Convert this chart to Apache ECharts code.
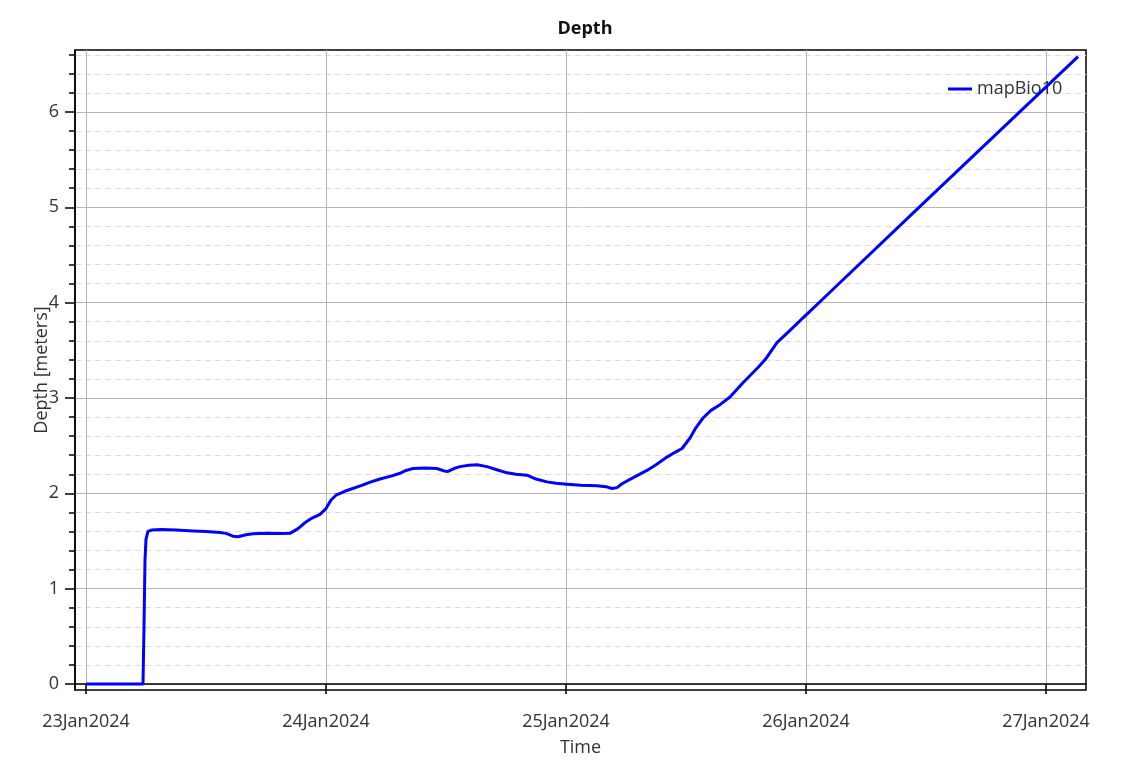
<!DOCTYPE html>
<html>
<head>
<meta charset="utf-8">
<script src="https://cdn.jsdelivr.net/npm/echarts@6/dist/echarts.min.js"></script>
<style>
html,body{margin:0;padding:0;background:#fff;}
#frame{position:absolute;left:7px;top:8px;width:1px;height:761px;background:#efefef;}
#chart{position:absolute;left:0;top:0;width:1129px;height:769px;}
</style>
</head>
<body>
<div id="frame"></div>
<div id="chart"></div>
<script>
// ---- data ----
const times = [
  '2024-01-23T00:00:00Z','2024-01-23T05:42:00Z','2024-01-23T05:48:00Z','2024-01-23T05:54:00Z',
  '2024-01-23T06:00:00Z','2024-01-23T06:12:00Z','2024-01-23T06:36:00Z','2024-01-23T07:30:00Z',
  '2024-01-23T09:00:00Z','2024-01-23T10:42:00Z','2024-01-23T12:00:00Z','2024-01-23T13:24:00Z',
  '2024-01-23T14:00:00Z','2024-01-23T14:42:00Z','2024-01-23T15:12:00Z','2024-01-23T16:00:00Z',
  '2024-01-23T16:42:00Z','2024-01-23T18:00:00Z','2024-01-23T19:30:00Z','2024-01-23T20:24:00Z',
  '2024-01-23T21:12:00Z','2024-01-23T22:00:00Z','2024-01-23T22:36:00Z','2024-01-23T23:24:00Z',
  '2024-01-24T00:00:00Z','2024-01-24T00:30:00Z','2024-01-24T01:00:00Z','2024-01-24T02:06:00Z',
  '2024-01-24T03:30:00Z','2024-01-24T04:30:00Z','2024-01-24T05:24:00Z','2024-01-24T06:30:00Z',
  '2024-01-24T07:24:00Z','2024-01-24T08:00:00Z','2024-01-24T08:42:00Z','2024-01-24T10:00:00Z',
  '2024-01-24T11:06:00Z','2024-01-24T11:48:00Z','2024-01-24T12:12:00Z','2024-01-24T12:48:00Z',
  '2024-01-24T13:24:00Z','2024-01-24T14:18:00Z','2024-01-24T15:06:00Z','2024-01-24T16:06:00Z',
  '2024-01-24T17:00:00Z','2024-01-24T18:06:00Z','2024-01-24T19:00:00Z','2024-01-24T20:06:00Z',
  '2024-01-24T21:00:00Z','2024-01-24T22:06:00Z','2024-01-24T23:00:00Z','2024-01-25T00:06:00Z',
  '2024-01-25T01:30:00Z','2024-01-25T03:06:00Z','2024-01-25T04:00:00Z','2024-01-25T04:36:00Z',
  '2024-01-25T05:06:00Z','2024-01-25T05:36:00Z','2024-01-25T07:00:00Z','2024-01-25T08:06:00Z',
  '2024-01-25T09:00:00Z','2024-01-25T10:06:00Z','2024-01-25T10:54:00Z','2024-01-25T11:36:00Z',
  '2024-01-25T12:24:00Z','2024-01-25T13:00:00Z','2024-01-25T13:42:00Z','2024-01-25T14:30:00Z',
  '2024-01-25T15:24:00Z','2024-01-25T16:24:00Z','2024-01-25T17:42:00Z','2024-01-25T19:12:00Z',
  '2024-01-25T19:54:00Z','2024-01-25T21:06:00Z','2024-01-25T22:24:00Z','2024-01-25T23:42:00Z',
  '2024-01-26T00:06:00Z','2024-01-26T02:36:00Z','2024-01-26T11:18:00Z','2024-01-27T03:12:00Z'
];
const depth = [
  0, 0, 0.6, 1.3,
  1.52, 1.6, 1.615, 1.62,
  1.615, 1.605, 1.6, 1.59,
  1.58, 1.55, 1.545, 1.565,
  1.575, 1.58, 1.578, 1.58,
  1.63, 1.7, 1.74, 1.78,
  1.84, 1.93, 1.98, 2.03,
  2.08, 2.12, 2.15, 2.18,
  2.21, 2.24, 2.26, 2.265,
  2.26, 2.235, 2.23, 2.26,
  2.28, 2.295, 2.3, 2.28,
  2.25, 2.215, 2.2, 2.19,
  2.15, 2.12, 2.105, 2.095,
  2.085, 2.08, 2.07, 2.05,
  2.06, 2.1, 2.18, 2.24,
  2.3, 2.38, 2.43, 2.47,
  2.58, 2.69, 2.79, 2.87,
  2.93, 3.01, 3.16, 3.32,
  3.4, 3.58, 3.71, 3.84,
  3.88, 4.13, 5.0, 6.58
];
const seriesName = 'mapBio10';
const xTickDates = ['2024-01-23T00:00:00Z','2024-01-24T00:00:00Z','2024-01-25T00:00:00Z','2024-01-26T00:00:00Z','2024-01-27T00:00:00Z'];
const yMajorTicks = [0, 1, 2, 3, 4, 5, 6];
const yMinorTicks = [0.2,0.4,0.6,0.8,1.2,1.4,1.6,1.8,2.2,2.4,2.6,2.8,3.2,3.4,3.6,3.8,4.2,4.4,4.6,4.8,5.2,5.4,5.6,5.8,6.2,6.4,6.6];
const xRange = ['2024-01-22T22:54:00Z', '2024-01-27T04:00:00Z'];
const yRange = [-0.063, 6.65];

// ---- chart ----
const MONTHS = ['Jan','Feb','Mar','Apr','May','Jun','Jul','Aug','Sep','Oct','Nov','Dec'];
function fmtDate(v){
  const d = new Date(v);
  return String(d.getUTCDate()).padStart(2,'0') + MONTHS[d.getUTCMonth()] + d.getUTCFullYear();
}
const data = times.map((t,i)=>[Date.parse(t), depth[i]]);
const FONT = 'Open Sans';
const chart = echarts.init(document.getElementById('chart'), null, {renderer:'canvas'});
chart.setOption({
  animation:false,
  backgroundColor:'#fff',
  textStyle:{fontFamily:FONT},
  title:{
    text:'Depth', left:580, top:15, textAlign:'center',
    textStyle:{fontFamily:FONT, fontWeight:'bold', fontSize:18, color:'#111'}
  },
  legend:{
    left:943, top:75, itemWidth:24, itemHeight:3, icon:'rect', itemGap:10,
    textStyle:{fontFamily:FONT, fontSize:18, color:'#333'},
    data:[seriesName]
  },
  grid:{left:75, right:43, top:50, bottom:79, show:true, borderColor:'#000', borderWidth:1.5, containLabel:false},
  xAxis:{
    type:'value', min:Date.parse(xRange[0]), max:Date.parse(xRange[1]),
    name:'Time', nameLocation:'middle', nameGap:49, nameMoveOverlap:false,
    nameTextStyle:{fontFamily:FONT, fontSize:18, color:'#333'},
    axisLine:{show:true, lineStyle:{color:'#000', width:1.5}},
    axisTick:{show:true, length:10, lineStyle:{color:'#000', width:1.5}, customValues:xTickDates.map(Date.parse)},
    axisLabel:{show:true, margin:23, fontFamily:FONT, fontSize:18, color:'#333', customValues:xTickDates.map(Date.parse), formatter:fmtDate},
    splitLine:{show:true, lineStyle:{color:'#b4b4b4', width:1}}
  },
  yAxis:[{
    type:'value', min:yRange[0], max:yRange[1], position:'left',
    name:'Depth [meters]', nameLocation:'middle', nameGap:24, nameRotate:90, nameMoveOverlap:false,
    nameTextStyle:{fontFamily:FONT, fontSize:18, color:'#333'},
    axisLine:{show:true, lineStyle:{color:'#000', width:1.5}},
    axisTick:{show:true, length:10, lineStyle:{color:'#000', width:1.5}, customValues:yMajorTicks},
    axisLabel:{show:true, margin:16, fontFamily:FONT, fontSize:18, color:'#333', customValues:yMajorTicks},
    splitLine:{show:true, lineStyle:{color:'#b4b4b4', width:1}}
  },{
    type:'value', min:yRange[0], max:yRange[1], position:'left',
    axisLine:{show:false},
    axisTick:{show:true, length:6, lineStyle:{color:'#000', width:1.5}, customValues:yMinorTicks},
    axisLabel:{show:false},
    splitLine:{show:true, lineStyle:{color:'#dcdcdc', width:1, type:[6,4]}}
  }],
  series:[{
    name:seriesName, type:'line', xAxisIndex:0, yAxisIndex:0,
    data:data, showSymbol:false, smooth:false, z:5,
    lineStyle:{color:'#0000ff', width:3, join:'round'},
    itemStyle:{color:'#0000ff'}
  }]
});
</script>
</body>
</html>
